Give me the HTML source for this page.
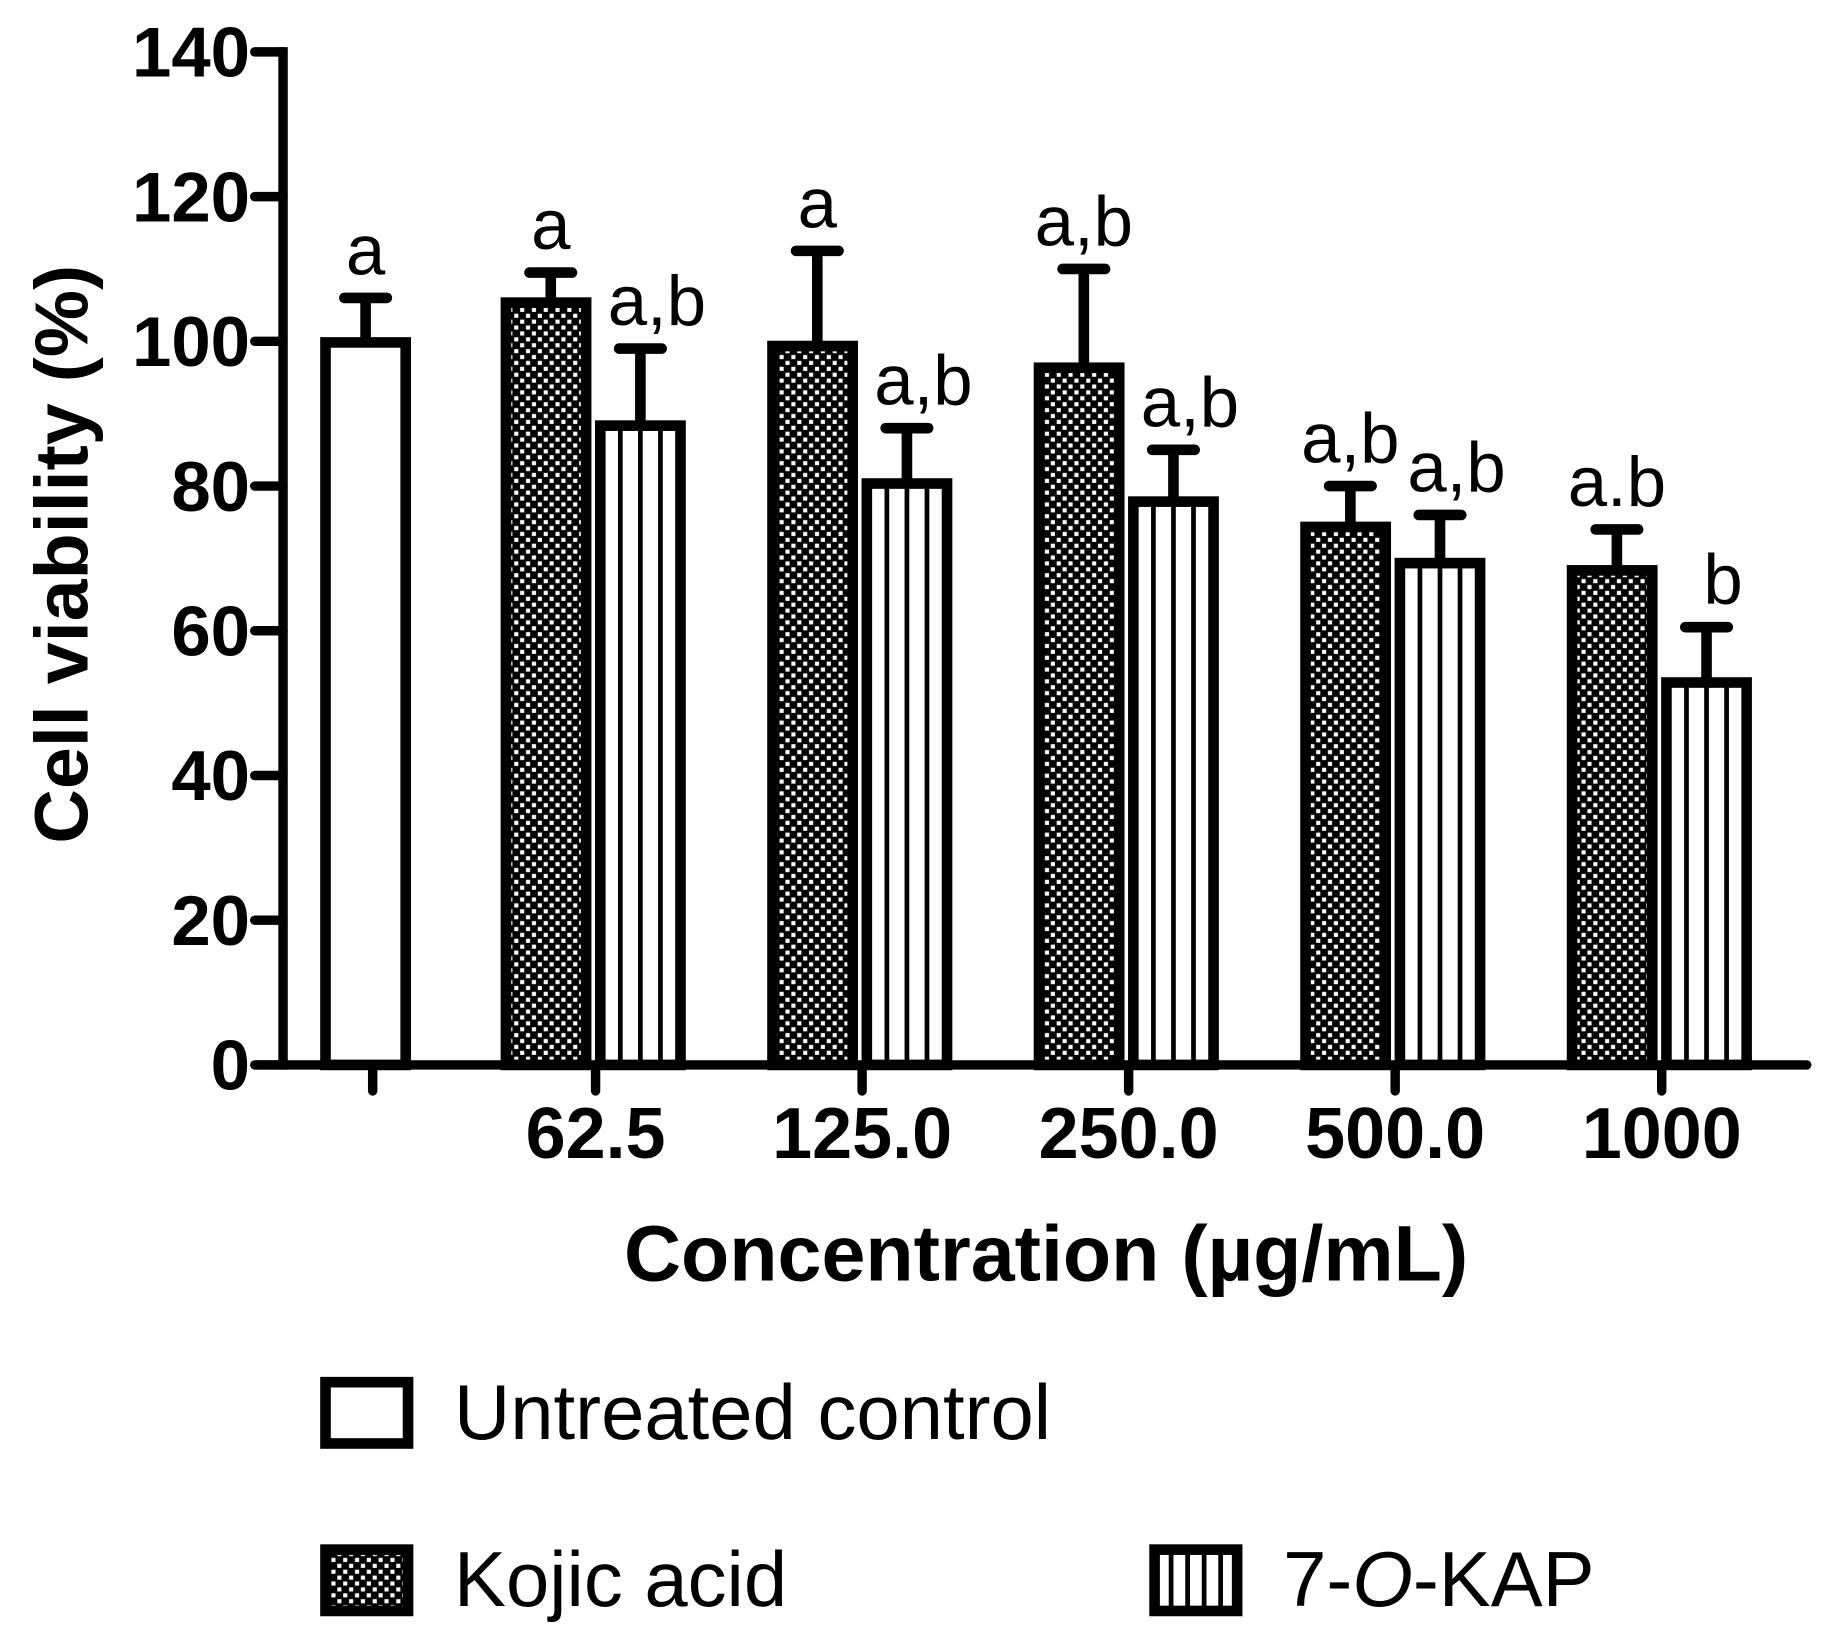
<!DOCTYPE html>
<html><head><meta charset="utf-8"><style>
html,body{margin:0;padding:0;background:#fff}
svg{display:block}
text{font-family:"Liberation Sans",Arial,sans-serif;fill:#000}
</style></head><body>
<svg id="chart" width="1828" height="1631" viewBox="0 0 1550 1383" preserveAspectRatio="none" xmlns="http://www.w3.org/2000/svg">
<defs>
<pattern id="check" width="10" height="10" patternUnits="userSpaceOnUse">
<rect width="10" height="10" fill="#000"/>
<rect x="1" y="1" width="3.5" height="3.5" fill="#fff"/>
<rect x="6" y="6" width="3.5" height="3.5" fill="#fff"/>
</pattern>
</defs>
<g id="plot"></g>
</svg>
<script>
const categories = ["", "62.5", "125.0", "250.0", "500.0", "1000"];
const controlValue = [100.5];
const controlErr = [106];
const kojicValues = [106, 100, 97, 75, 69];
const kojicErr = [109.5, 112.5, 110, 80, 74];
const kapValues = [89, 81, 78.5, 70, 53.5];
const kapErr = [99, 88, 85, 76, 60.5];
const kojicLabels = ["a", "a", "a,b", "a,b", "a.b"];
const kapLabels = ["a,b", "a,b", "a,b", "a,b", "b"];
const controlLabel = ["a"];
const yTicks = [0, 20, 40, 60, 80, 100, 120, 140];

const NS = "http://www.w3.org/2000/svg";
const g = document.getElementById("plot");
const X0 = 240, Y0 = 903, YTOP = 44;
const yScale = v => Y0 - (Y0 - YTOP) * v / 140;
const tickX = [316, 505, 731, 957, 1183, 1409];
const xCenter = i => tickX[i];
const BW = 76;
function el(tag, attrs, txt) {
  const e = document.createElementNS(NS, tag);
  for (const k in attrs) e.setAttribute(k, attrs[k]);
  if (txt !== undefined) e.textContent = txt;
  g.appendChild(e);
  return e;
}
function errBar(cx, v, ev) {
  const l = el("line", {x1: cx, x2: cx, y1: yScale(v), y2: yScale(ev), stroke: "#000", "stroke-width": 9});
  
  
  const c = el("line", {x1: cx - 18, x2: cx + 18, y1: yScale(ev), y2: yScale(ev), stroke: "#000", "stroke-width": 9, "stroke-linecap": "round"});
  
  
}
function bar(x, v, kind, name) {
  const top = yScale(v);
  let fill = "#fff";
  if (kind === "kojic") fill = "url(#check)";
  const r = el("rect", {x: x + 4, y: top + 4, width: BW - 8, height: Y0 - top - 4, fill: fill, stroke: "#000", "stroke-width": 9});
  
  
  if (kind === "kap") {
    for (let k = 1; k <= 3; k++) {
      const lx = x + 4 + k * (BW - 8) / 4;
      const s = el("line", {x1: lx, x2: lx, y1: top + 8, y2: Y0, stroke: "#000", "stroke-width": 4});
      
      
    }
  }
}
function label(cx, ev, t) {
  const tx = el("text", {x: cx, y: yScale(ev) - 20, "font-size": 60, "text-anchor": "middle"}, t);
  
  
}
// control
bar(xCenter(0) - 44, controlValue[0], "control", "bar-untreated-control");
errBar(xCenter(0) - 6, controlValue[0], controlErr[0]);
label(xCenter(0) - 6, controlErr[0], controlLabel[0]);
for (let i = 0; i < kojicValues.length; i++) {
  const cx = xCenter(i + 1);
  errBar(cx - 38, kojicValues[i], kojicErr[i]);
  errBar(cx + 38, kapValues[i], kapErr[i]);
  bar(cx - BW - 4, kojicValues[i], "kojic", "bar-kojic-" + categories[i + 1]);
  bar(cx, kapValues[i], "kap", "bar-7okap-" + categories[i + 1]);
  label(cx - 38, kojicErr[i], kojicLabels[i]);
  label(cx + 52, kapErr[i], kapLabels[i]);
}
// axes
const ya = el("line", {x1: X0, x2: X0, y1: YTOP - 4, y2: Y0 + 4, stroke: "#000", "stroke-width": 8});


const xa = el("line", {x1: 218, x2: 1532, y1: Y0, y2: Y0, stroke: "#000", "stroke-width": 8, "stroke-linecap": "round"});


yTicks.forEach(v => {
  const t = el("line", {x1: 216, x2: X0, y1: yScale(v), y2: yScale(v), stroke: "#000", "stroke-width": 8, "stroke-linecap": "round"});
  
  
  const tl = el("text", {x: 212, y: yScale(v) + 21, "font-size": 60, "font-weight": "bold", "text-anchor": "end"}, String(v));
  
  
});
categories.forEach((c, i) => {
  const t = el("line", {x1: tickX[i], x2: tickX[i], y1: Y0, y2: 925, stroke: "#000", "stroke-width": 8, "stroke-linecap": "round"});
  
  
  if (c) {
    const tl = el("text", {x: tickX[i], y: 982, "font-size": 61, "font-weight": "bold", "text-anchor": "middle"}, c);
    
    
  }
});
const xt = el("text", {x: 887, y: 1086, "font-size": 67, "font-weight": "bold", "text-anchor": "middle"}, "Concentration (\u00b5g/mL)");


const yt = el("text", {x: 0, y: 0, "font-size": 64, "font-weight": "bold", "text-anchor": "middle", transform: "translate(74,470) rotate(-90)"}, "Cell viability (%)");


// legend
function legend(x, y, kind, txt, name) {
  const r = el("rect", {x: x + 4, y: y + 4, width: 70, height: 52, fill: kind === "kojic" ? "url(#check)" : "#fff", stroke: "#000", "stroke-width": 9});
  
  
  if (kind === "kap") {
    for (let k = 1; k <= 4; k++) {
      const lx = x + 4 + k * 70 / 5;
      const s = el("line", {x1: lx, x2: lx, y1: y + 6, y2: y + 54, stroke: "#000", "stroke-width": 4});
      
      
    }
  }
  const t = el("text", {x: x + 113, y: y + 52, "font-size": 66});
  
  
  if (kind === "kap") {
    t.innerHTML = '7-<tspan font-style="italic">O</tspan>-KAP';
  } else t.textContent = txt;
}
legend(272, 1168, "control", "Untreated control", "legend-untreated-control");
legend(272, 1310, "kojic", "Kojic acid", "legend-kojic-acid");
legend(975, 1310, "kap", "7-O-KAP", "legend-7okap");
</script>
</body></html>
